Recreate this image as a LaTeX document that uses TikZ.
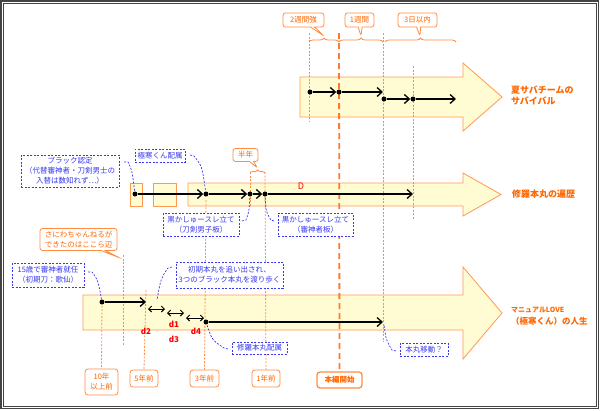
\documentclass[tikz,border=0pt]{standalone}
\usepackage{fontspec}
\setmainfont{Noto Sans CJK JP}
\usetikzlibrary{arrows.meta,shapes.callouts,decorations.pathreplacing}
\definecolor{oline}{HTML}{FF8C40}
\definecolor{othick}{HTML}{FF7A30}
\definecolor{otext}{HTML}{FF6600}
\definecolor{afill}{HTML}{FFFBD2}
\definecolor{astroke}{HTML}{FF9950}
\definecolor{bcol}{HTML}{3838F0}
\definecolor{framec}{HTML}{444444}
\newcommand{\mysm}{\fontsize{7.5}{10}\selectfont}
\begin{document}
\begin{tikzpicture}[x=1pt,y=-1pt,
  dotnode/.style={circle,fill=black,inner sep=0pt,minimum size=5pt},
  tlarrow/.style={line width=1.3pt,-{Straight Barb[length=5pt,width=9pt]}},
  dblarrow/.style={line width=1pt,{Straight Barb[length=3pt,width=6pt]}-{Straight Barb[length=3pt,width=6pt]}},
  oguide/.style={draw=oline,line width=0.8pt,dash pattern=on 2pt off 1.5pt},
  oguidethick/.style={draw=othick,line width=1.8pt,dash pattern=on 6pt off 4pt},
  arrowshape/.style={fill=afill,draw=astroke,line width=0.8pt},
  bracestyle/.style={draw=oline,line width=0.8pt,decorate,decoration={brace,amplitude=4pt}},
  bbox/.style={draw=bcol,dash pattern=on 2pt off 1.5pt,line width=0.9pt,fill=white,text=bcol,font=\mysm,align=center,inner sep=1pt},
  bconn/.style={draw=bcol,line width=0.7pt,dash pattern=on 2pt off 1.5pt},
  ocall/.style={rectangle callout,draw=oline,line width=0.8pt,fill=white,rounded corners=2.5pt,text=otext,font=\mysm,align=center,inner sep=1pt,callout pointer width=4pt},
  olabel/.style={draw=oline,line width=0.8pt,fill=white,rounded corners=3pt,text=otext,font=\mysm,align=center,inner sep=1pt},
  rlabel/.style={text=otext,anchor=west,align=left,inner sep=0pt},
  dlabel/.style={text=red,font=\bfseries\fontsize{8}{9}\selectfont,inner sep=0pt}
]
\useasboundingbox (0,0) rectangle (600,410);
% frame
\draw[framec,line width=1.2pt] (1,1) rectangle (598.5,408.5);
\draw[framec,line width=0.9pt] (3.5,3.5) rectangle (596,406);

% big arrows
\draw[arrowshape] (300,77) -- (463,77) -- (463,63) -- (502,97) -- (463,131) -- (463,117) -- (300,117) -- cycle;
\draw[arrowshape] (188,183) -- (463,183) -- (463,173) -- (501,194.5) -- (463,216) -- (463,206) -- (188,206) -- cycle;
\draw[arrowshape] (130,183) rectangle (142,206);
\draw[arrowshape] (153,183) rectangle (176,206);
\draw[arrowshape] (83,295) -- (463,295) -- (463,267) -- (502,313) -- (463,359) -- (463,330) -- (83,330) -- cycle;

% right labels
\node[rlabel,font=\bfseries\fontsize{9}{11}\selectfont] (lab1) at (511,95) {夏サバチームの\\サバイバル};
\node[rlabel,font=\bfseries\fontsize{9}{11}\selectfont] (lab2) at (512,194.5) {修羅本丸の遍歴};
\node[rlabel] (lab3) at (511,316.5) {{\bfseries\fontsize{7}{11.5}\selectfont マニュアルLOVE}\\{\bfseries\fontsize{8.5}{11.5}\selectfont （極寒くん）の人生}};

% bottom labels
\node[olabel,minimum width=33pt,minimum height=26pt] (y10) at (101.5,382) {10年\\以上前};
\node[olabel,minimum width=28pt,minimum height=17pt] (y5) at (144,378.5) {5年前};
\node[olabel,minimum width=29pt,minimum height=17pt] (y3) at (204.5,378.5) {3年前};
\node[olabel,minimum width=28pt,minimum height=17pt] (y1) at (266,378.5) {1年前};
\node[olabel,line width=1.3pt,font=\bfseries\mysm,minimum width=45pt,minimum height=16pt] (hb) at (339.5,380) {本編開始};

% guide lines
\draw[oguide] (309,33) -- (309,122);
\draw[oguide] (383,33) -- (383,342);
\draw[oguide] (413,66) -- (413,220);
\draw[oguide] (250,172) -- (250,206);
\draw[oguide] (265,172) -- (y1.north);
\draw[oguide] (206,200) -- (y3.north);
\draw[oguide] (146,290) -- (y5.north);
\draw[oguide] (123,255) -- (123,345);
\draw[oguide] (102,302) -- (y10.north);
\draw[oguidethick] (339,33) -- (hb.north);

% braces
\coordinate (br1a) at (309,42); \coordinate (br1b) at (339,42);
\coordinate (br2a) at (339,42); \coordinate (br2b) at (383,42);
\coordinate (br3a) at (385,42); \coordinate (br3b) at (456,42);
\coordinate (br4a) at (250,173); \coordinate (br4b) at (265,173);
\draw[bracestyle] (br1a) -- (br1b);
\draw[bracestyle] (br2a) -- (br2b);
\draw[bracestyle] (br3a) -- (br3b);
\draw[bracestyle,decoration={brace,amplitude=3pt}] (br4a) -- (br4b);

% top callouts
\node[ocall,minimum width=41pt,minimum height=14pt,callout absolute pointer={(324,36)}] (c2w) at (303.5,20) {2週間強};
\node[ocall,minimum width=29pt,minimum height=14pt,callout absolute pointer={(361,36)}] (c1w) at (359.5,20) {1週間};
\node[ocall,minimum width=39pt,minimum height=14pt,callout absolute pointer={(420,36)}] (c3d) at (417.5,20) {3日以内};
\node[ocall,minimum width=25pt,minimum height=13pt,callout absolute pointer={(257.5,168)}] (chalf) at (245.5,155) {半年};
\node[ocall,minimum width=77pt,minimum height=22pt,callout absolute pointer={(120,258)}] (csan) at (78.5,239.5) {さにわちゃんねるが\\できたのはここら辺};

% top timeline
\node[dotnode] (t1) at (310,92) {};
\node[dotnode] (t2) at (339,92) {};
\coordinate (t3) at (383,92);
\node[dotnode] (t4) at (384,99) {};
\node[dotnode] (t5) at (413,99) {};
\coordinate (t6) at (456,99);
\draw[tlarrow] (t1) -- (t2);
\draw[tlarrow] (t2) -- (t3);
\draw[tlarrow] (t4) -- (t5);
\draw[tlarrow] (t5) -- (t6);

% middle timeline
\node[dotnode] (m0) at (135,194) {};
\node[dotnode] (m1) at (206,194) {};
\node[dotnode] (m2) at (250,194) {};
\node[dotnode] (m3) at (265,194) {};
\coordinate (m4) at (413,194);
\draw[tlarrow] (m0) -- (m1);
\draw[tlarrow] (m1) -- (m2);
\draw[tlarrow] (m2) -- (m3);
\draw[tlarrow] (m3) -- (m4);
\node[text=red,font=\fontsize{9}{10}\selectfont,inner sep=0pt] (dD) at (301,186) {D};

% bottom timeline
\node[dotnode] (b0) at (102,302) {};
\coordinate (b1) at (146,302);
\draw[tlarrow] (b0) -- (b1);
\coordinate (e1a) at (148,309); \coordinate (e1b) at (165,309);
\coordinate (e2a) at (167,313); \coordinate (e2b) at (184,313);
\coordinate (e3a) at (186,318); \coordinate (e3b) at (204,318);
\draw[dblarrow] (e1a) -- (e1b);
\draw[dblarrow] (e2a) -- (e2b);
\draw[dblarrow] (e3a) -- (e3b);
\node[dotnode] (b2) at (206,322) {};
\coordinate (b3) at (383,322);
\draw[tlarrow] (b2) -- (b3);
\node[dlabel] (d2) at (146,331) {d2};
\node[dlabel] (d1) at (174,324.5) {d1};
\node[dlabel] (d3) at (174,339) {d3};
\node[dlabel] (d4) at (196,331) {d4};

% blue boxes
\node[bbox,minimum width=98pt,minimum height=32pt] (bBlack) at (70,171) {ブラック認定\\（代替審神者・刀剣男士の\\入替は数知れず…）};
\node[bbox,minimum width=50pt,minimum height=13pt] (bGokan) at (160,155.5) {極寒くん配属};
\node[bbox,minimum width=76pt,minimum height=23pt] (bKuro1) at (201,224.5) {黒かしゅースレ立て\\（刀剣男子板）};
\node[bbox,minimum width=75pt,minimum height=23pt] (bKuro2) at (315.5,224.5) {黒かしゅースレ立て\\（審神者板）};
\node[bbox,minimum width=72pt,minimum height=24pt] (b15) at (48,275) {15歳で審神者就任\\（初期刀：歌仙）};
\node[bbox,minimum width=107pt,minimum height=26pt] (bShoki) at (229.5,275) {初期本丸を追い出され、\\3つのブラック本丸を渡り歩く};
\node[bbox,minimum width=55pt,minimum height=12pt] (bShura) at (259.5,348) {修羅本丸配属};
\node[bbox,minimum width=48pt,minimum height=13pt] (bIdo) at (424,349.5) {本丸移動？};

% blue connectors
\coordinate (k1) at (124,162);
\draw[bconn] (k1) -- (128,162) .. controls (132,170) .. (m0);
\coordinate (k2) at (190,155);
\draw[bconn] (k2) -- (194,156) .. controls (202,166) .. (m1);
\coordinate (k3) at (242,221);
\draw[bconn] (k3) -- (246,220) .. controls (249,212) .. (m2);
\coordinate (k4) at (274,221);
\draw[bconn] (k4) -- (271,220) .. controls (266,212) .. (m3);
\coordinate (k5) at (88,272);
\draw[bconn] (k5) -- (92,272) .. controls (98,280) .. (b0);
\coordinate (k6) at (172,267);
\coordinate (k6e) at (157,300);
\draw[bconn] (k6) -- (168,268) .. controls (161,278) .. (k6e);
\coordinate (k7) at (228,349);
\draw[bconn] (k7) -- (224,348) .. controls (212,340) .. (b2);
\coordinate (k8) at (396,351);
\draw[bconn] (k8) -- (392,350) .. controls (386,340) .. (384,324);
\end{tikzpicture}
\end{document}
